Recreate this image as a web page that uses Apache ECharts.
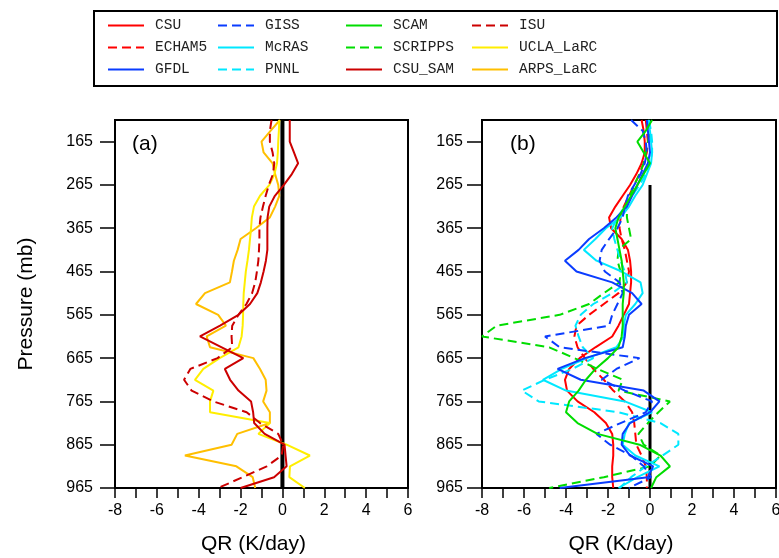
<!DOCTYPE html>
<html>
<head>
<meta charset="utf-8">
<script src="https://cdn.jsdelivr.net/npm/echarts@6/dist/echarts.min.js"></script>
<style>
html, body { margin: 0; padding: 0; background: #fff; }
#main { width: 779px; height: 558px; }
</style>
</head>
<body>
<div id="main"></div>
<script>
// pressure levels (mb), every 25 mb
var levels = [115, 140, 165, 190, 215, 240, 265, 290, 315, 340, 365, 390, 415, 440, 465, 490, 515, 540, 565, 590,
              615, 640, 665, 690, 715, 740, 765, 790, 815, 840, 865, 890, 915, 940, 965];
var pressTicks = [165, 265, 365, 465, 565, 665, 765, 865, 965];
var qrTicks = [-8, -6, -4, -2, 0, 2, 4, 6];
var zeroLine = [115, 965];
var zeroLineB = [265, 965];

// panel (a) - CRMs
var csuSam = [0.35, 0.35, 0.35, 0.55, 0.75, 0.45, 0.07, -0.36, -0.63, -0.71, -0.72, -0.72, -0.72, -0.79, -0.9, -1.03, -1.2, -1.55, -2.1, -2.98,
              -3.94, -2.9, -1.87, -2.75, -2.5, -2.1, -1.5, -1.4, -1.35, -0.85, 0.1, 0.15, 0.2, -0.4, -2.0];
var isu = [-0.52, -0.6, -0.6, -0.47, -0.39, -0.45, -0.65, -0.8, -0.93, -1.05, -1.1, -1.1, -1.12, -1.15, -1.22, -1.3, -1.45, -1.72, -2.1, -2.4,
           -2.43, -2.4, -3.1, -4.4, -4.7, -4.34, -3.3, -1.71, -1.07, -0.2, 0.04, -0.04, -0.75, -1.9, -3.07];
var uclaLarc = [-0.15, -0.17, -0.2, -0.22, -0.26, -0.38, -0.62, -1.07, -1.36, -1.46, -1.5, -1.55, -1.6, -1.67, -1.75, -1.8, -1.85, -1.87, -1.88, -1.9,
                -1.95, -2.1, -3.0, -3.78, -4.18, -3.3, -3.46, -3.46, -0.6, -1.15, 0.2, 1.31, 0.36, 0.33, 1.07];
var arpsLarc = [-0.12, -0.57, -1.0, -0.9, -0.47, -0.35, -0.2, -0.15, -0.35, -0.6, -1.27, -2.0, -2.14, -2.32, -2.41, -2.51, -3.7, -4.13, -3.07, -2.7,
                -3.62, -3.46, -1.39, -1.07, -0.8, -0.76, -0.92, -0.6, -0.6, -2.16, -2.43, -4.66, -2.2, -1.42, -1.3];

// panel (b) - SCMs
var csu = [-0.4, -0.3, -0.25, -0.25, -0.4, -0.65, -0.95, -1.3, -1.65, -1.95, -1.85, -1.35, -1.05, -0.95, -0.9, -0.9, -0.95, -1.0, -1.25, -1.5,
           -1.8, -2.6, -3.35, -3.85, -4.05, -3.95, -3.45, -2.65, -2.1, -1.8, -1.75, -1.75, -1.8, -1.8, -1.75];
var echam5 = [-0.2, -0.15, -0.1, -0.15, -0.3, -0.5, -0.75, -1.0, -1.25, -1.4, -1.45, -1.35, -1.2, -1.1, -1.0, -1.1, -1.5, -2.2, -2.9, -3.5,
              -3.6, -3.45, -3.1, -2.7, -2.2, -1.75, -1.2, -0.85, -0.75, -0.7, -0.65, -0.4, -0.2, -0.15, -0.15];
var gfdl = [-0.15, -0.1, -0.05, 0.0, -0.1, -0.35, -0.6, -0.85, -1.1, -1.6, -2.2, -2.9, -3.4, -4.05, -3.5, -1.8, -0.85, -0.4, -1.0, -1.15,
            -1.2, -1.3, -3.1, -4.4, -3.3, -0.3, 0.45, 0.0, -0.95, -1.3, -1.35, -0.95, 0.15, -0.1, -4.3];
var giss = [-0.9, -0.35, -0.2, -0.15, -0.25, -0.45, -0.75, -1.05, -1.2, -1.3, -1.55, -1.95, -2.3, -2.4, -2.15, -1.45, -1.3, -1.55, -1.8, -1.95,
            -5.0, -4.3, -0.5, -1.6, -2.3, -1.2, 0.1, -0.2, -1.4, -2.55, -1.9, -0.9, -0.3, 0.05, -1.0];
var mcras = [-0.1, 0.0, 0.05, 0.1, 0.05, -0.15, -0.35, -0.7, -1.0, -1.4, -2.1, -2.6, -3.15, -2.55, -1.35, -0.45, -0.35, -0.7, -1.15, -1.25,
             -1.25, -1.6, -3.0, -4.2, -5.1, -4.0, -1.2, 0.1, -1.0, -1.2, -1.3, -0.7, 0.45, -0.6, -1.5];
var pnnl = [-0.05, 0.05, 0.1, 0.1, 0.0, -0.2, -0.5, -0.85, -1.2, -1.55, -1.8, -1.7, -1.55, -1.4, -1.2, -1.1, -1.8, -2.7, -3.3, -3.55,
            -3.4, -3.2, -2.7, -3.7, -5.0, -6.1, -5.3, -1.5, 0.5, 1.35, 1.35, 0.6, -0.2, -0.9, -1.45];
var scam = [0.1, -0.2, -0.6, -0.3, 0.0, -0.3, -0.6, -0.9, -1.2, -1.5, -1.65, -1.55, -1.45, -1.35, -1.3, -1.25, -1.25, -1.3, -1.3, -1.3,
            -1.35, -1.5, -2.0, -2.6, -3.05, -3.4, -3.85, -4.0, -3.45, -2.5, -0.5, 0.5, 0.95, 0.3, 0.05];
var scripps = [-0.1, 0.0, -0.1, -0.2, -0.3, -0.5, -0.75, -0.95, -1.1, -1.1, -1.0, -0.9, -1.5, -1.55, -1.4, -1.45, -2.2, -2.9, -4.3, -7.3,
               -8.0, -4.8, -3.6, -2.5, -1.3, -1.5, 0.95, 0.4, -0.1, -0.55, -0.3, 0.5, 0.0, -2.2, -4.8];

var RED = '#ff0000', DKRED = '#cc0000', BLUE = '#0a3cff', CYAN = '#00e8ff', GREEN = '#00dd00',
    YELLOW = '#ffee00', ORANGE = '#ffbf00';
var FONT = 'Liberation Sans';

function profile(name, vals, color, dashed, panel) {
    return {
        name: name,
        type: 'line',
        xAxisIndex: panel,
        yAxisIndex: panel,
        symbol: 'none',
        smooth: false,
        color: color,
        lineStyle: { color: color, width: 2, type: dashed ? [9, 5] : 'solid' },
        data: levels.map(function (p, i) { return [vals[i], p]; })
    };
}

function zero(range, panel, w) {
    return {
        name: 'zero' + panel,
        type: 'line',
        xAxisIndex: panel,
        yAxisIndex: panel,
        symbol: 'none',
        silent: true,
        z: 3,
        lineStyle: { color: '#000', width: w },
        data: range.map(function (p) { return [0, p]; })
    };
}

function yAxis(panel, withName, margin) {
    return {
        gridIndex: panel,
        type: 'value',
        inverse: true,
        min: 115,
        max: 965,
        name: withName ? 'Pressure (mb)' : '',
        nameLocation: 'middle',
        nameGap: 78,
        nameRotate: 90,
        nameTextStyle: { fontSize: 21, fontFamily: FONT, color: '#000' },
        axisLine: { show: true, onZero: false, lineStyle: { color: '#000', width: 2 } },
        axisTick: { show: true, length: 15, customValues: pressTicks, lineStyle: { color: '#000', width: 1.5 } },
        axisLabel: { customValues: pressTicks, margin: margin, fontSize: 16, fontFamily: FONT, color: '#000' },
        splitLine: { show: false }
    };
}

function xAxis(panel) {
    return {
        gridIndex: panel,
        type: 'value',
        min: -8,
        max: 6,
        interval: 1,
        name: 'QR (K/day)',
        nameLocation: 'middle',
        nameGap: 46,
        nameTextStyle: { fontSize: 21, fontFamily: FONT, color: '#000', padding: [0, 16, 0, 0] },
        axisLine: { show: true, onZero: false, lineStyle: { color: '#000', width: 2 } },
        axisTick: { show: true, length: 10, lineStyle: { color: '#000', width: 1.5 } },
        axisLabel: { customValues: qrTicks, margin: 15, fontSize: 16, fontFamily: FONT, color: '#000' },
        splitLine: { show: false }
    };
}

function legendCol(names, left) {
    return {
        data: names,
        orient: 'vertical',
        left: left,
        top: 13,
        itemWidth: 36,
        itemHeight: 14,
        itemGap: 7,
        selectedMode: false,
        itemStyle: { opacity: 0 },   // hide the marker, keep the line
        textStyle: { fontFamily: 'Liberation Mono', fontSize: 14.5, color: '#222', padding: [4, 0, 0, 6] }
    };
}

var chart = echarts.init(document.getElementById('main'));
chart.setOption({
    animation: false,
    backgroundColor: '#fff',
    grid: [
        { left: 115, top: 120, width: 293, height: 368, show: true, borderColor: '#000', borderWidth: 2, outerBoundsMode: 'none' },
        { left: 482, top: 120, width: 294, height: 368, show: true, borderColor: '#000', borderWidth: 2, outerBoundsMode: 'none' }
    ],
    xAxis: [xAxis(0), xAxis(1)],
    yAxis: [yAxis(0, true, 22), yAxis(1, false, 19)],
    legend: [
        legendCol(['CSU', 'ECHAM5', 'GFDL'], 102),
        legendCol(['GISS', 'McRAS', 'PNNL'], 212),
        legendCol(['SCAM', 'SCRIPPS', 'CSU_SAM'], 340),
        legendCol(['ISU', 'UCLA_LaRC', 'ARPS_LaRC'], 466)
    ],
    graphic: [
        { type: 'rect', shape: { x: 94, y: 11, width: 683, height: 75 }, style: { fill: 'none', stroke: '#000', lineWidth: 2 } },
        { type: 'text', left: 132, top: 134, style: { text: '(a)', font: '21px "Liberation Sans"', fill: '#000' } },
        { type: 'text', left: 510, top: 134, style: { text: '(b)', font: '21px "Liberation Sans"', fill: '#000' } }
    ],
    series: [
        zero(zeroLine, 0, 4),
        profile('ARPS_LaRC', arpsLarc, ORANGE, false, 0),
        profile('UCLA_LaRC', uclaLarc, YELLOW, false, 0),
        profile('ISU', isu, DKRED, true, 0),
        profile('CSU_SAM', csuSam, DKRED, false, 0),
        zero(zeroLineB, 1, 3),
        profile('CSU', csu, RED, false, 1),
        profile('ECHAM5', echam5, RED, true, 1),
        profile('SCRIPPS', scripps, GREEN, true, 1),
        profile('PNNL', pnnl, CYAN, true, 1),
        profile('McRAS', mcras, CYAN, false, 1),
        profile('GISS', giss, BLUE, true, 1),
        profile('GFDL', gfdl, BLUE, false, 1),
        profile('SCAM', scam, GREEN, false, 1)
    ]
});
</script>
</body>
</html>
